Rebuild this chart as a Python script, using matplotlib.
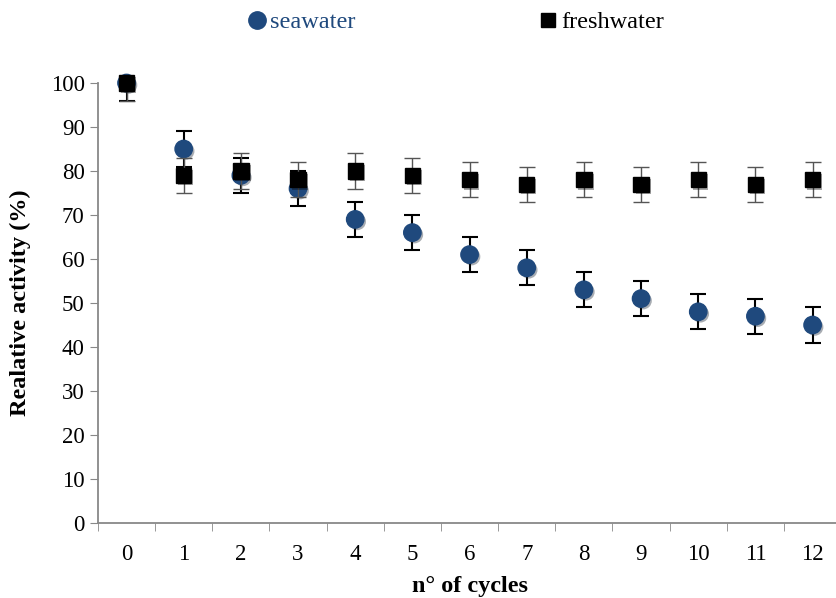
import numpy as np
import matplotlib
matplotlib.use("Agg")
import matplotlib.pyplot as plt
import matplotlib.patheffects as pe

plt.rcParams['font.family'] = ['Liberation Serif', 'DejaVu Serif']

cycles = np.arange(13)
seawater = [100, 85, 79, 76, 69, 66, 61, 58, 53, 51, 48, 47, 45]
sea_err = [4, 4, 4, 4, 4, 4, 4, 4, 4, 4, 4, 4, 4]
freshwater = [100, 79, 80, 78, 80, 79, 78, 77, 78, 77, 78, 77, 78]
fresh_err = [4, 4, 4, 4, 4, 4, 4, 4, 4, 4, 4, 4, 4]

blue = '#1F497D'
shadow = [pe.SimplePatchShadow(offset=(1.5, -1.5), alpha=0.35), pe.Normal()]

fig = plt.figure(figsize=(8.37, 5.98), dpi=100)
ax = fig.add_axes([0.117, 0.1254, 0.888, 0.7358])

ax.errorbar(cycles, seawater, yerr=sea_err, fmt='none', ecolor='black',
            elinewidth=1.5, capsize=5.5, capthick=1.5, zorder=2)
l1, = ax.plot(cycles, seawater, 'o', color=blue, markersize=12.5, ls='none',
              zorder=3, clip_on=False, label='seawater', path_effects=shadow)
ax.errorbar(cycles, freshwater, yerr=fresh_err, fmt='none', ecolor='#555555',
            elinewidth=1, capsize=5.5, capthick=1, zorder=4)
l2, = ax.plot(cycles, freshwater, 's', color='black', markersize=11, ls='none',
              zorder=5, clip_on=False, label='freshwater', path_effects=shadow)

ax.set_xlim(-0.5, 12.5)
ax.set_ylim(0, 100)
ax.set_yticks(range(0, 101, 10))
ax.set_xticks(cycles)
ax.set_xticks(np.arange(-0.5, 12.6, 1), minor=True)
ax.tick_params(axis='x', which='major', length=0, pad=15, labelsize=16.5)
ax.tick_params(axis='x', which='minor', length=6, color='#888888', direction='out')
ax.tick_params(axis='y', length=6, color='#888888', labelsize=16.5)

for s in ['top', 'right']:
    ax.spines[s].set_visible(False)
for s in ['left', 'bottom']:
    ax.spines[s].set_color('#888888')
    ax.spines[s].set_linewidth(1.3)

ax.set_xlabel('n° of cycles', fontsize=17.5, fontweight='bold', labelpad=8)
ax.set_ylabel('Realative activity (%)', fontsize=17.5, fontweight='bold', labelpad=14)

leg1 = fig.legend(handles=[l1], loc='center left', bbox_to_anchor=(0.295, 0.963),
                  frameon=False, fontsize=17.5, handletextpad=0.15,
                  handlelength=0.8, borderpad=0, borderaxespad=0)
leg1.get_texts()[0].set_color(blue)
leg2 = fig.legend(handles=[l2], loc='center left', bbox_to_anchor=(0.643, 0.963),
                  frameon=False, fontsize=17.5, handletextpad=0.15,
                  handlelength=0.8, borderpad=0, borderaxespad=0,
                  markerscale=0.9)
for leg in [leg1, leg2]:
    for h in leg.legend_handles:
        h.set_path_effects([])

fig.savefig('out.png', dpi=100)
